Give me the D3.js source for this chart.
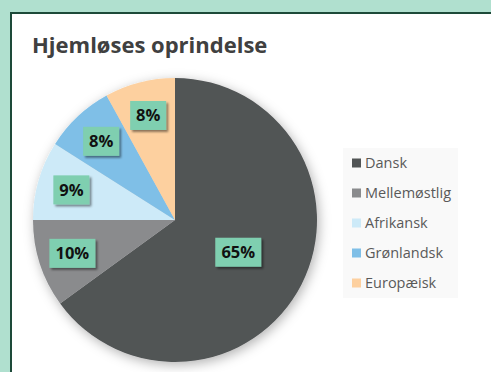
<!DOCTYPE html>
<html>
<head>
<meta charset="utf-8">
<script src="https://cdn.jsdelivr.net/npm/d3@7"></script>
<style>
  html, body { margin: 0; padding: 0; background: #b0e0cf; overflow: hidden; }
  svg { display: block; }
</style>
</head>
<body>
<div id="chart"></div>
<script>
  // Data
  const categories = ['Dansk', 'Mellemøstlig', 'Afrikansk', 'Grønlandsk', 'Europæisk'];
  const shares = [65, 10, 9, 8, 8];
  const sliceColors = ['#515455', '#8a8b8d', '#cdeaf8', '#7fbfe7', '#fdd09f'];
  const chartTitle = 'Hjemløses oprindelse';

  const width = 491;
  const height = 372;

  const svg = d3.select('#chart')
    .append('svg')
    .attr('width', width)
    .attr('height', height);

  const defs = svg.append('defs');

  // soft glow under pie
  const glow = defs.append('filter')
    .attr('id', 'pieShadow')
    .attr('x', '-20%').attr('y', '-20%')
    .attr('width', '140%').attr('height', '140%');
  glow.append('feDropShadow')
    .attr('dx', 2).attr('dy', 3)
    .attr('stdDeviation', 6)
    .attr('flood-color', '#000')
    .attr('flood-opacity', 0.3);

  // label box shadow
  const boxShadow = defs.append('filter')
    .attr('id', 'boxShadow')
    .attr('x', '-30%').attr('y', '-30%')
    .attr('width', '160%').attr('height', '160%');
  boxShadow.append('feDropShadow')
    .attr('dx', 2).attr('dy', 2)
    .attr('stdDeviation', 1.2)
    .attr('flood-color', '#000')
    .attr('flood-opacity', 0.45);

  // background panel (open to the right and bottom)
  svg.append('rect')
    .attr('x', 11).attr('y', 13)
    .attr('width', width + 20).attr('height', height + 20)
    .attr('fill', '#fff')
    .attr('stroke', '#1d4a39')
    .attr('stroke-width', 2);

  // Title
  svg.append('text')
    .attr('x', 32)
    .attr('y', 53)
    .attr('font-family', '"Open Sans", sans-serif')
    .attr('font-weight', 700)
    .attr('font-size', '22px')
    .attr('fill', '#404040')
    .text(chartTitle);

  // Pie
  const cx = 175, cy = 220, radius = 142;

  const color = d3.scaleOrdinal().domain(categories).range(sliceColors);

  const pieData = d3.pie()
    .sort(null)
    .value(d => d.value)(categories.map((c, i) => ({ name: c, value: shares[i] })));

  const arc = d3.arc().innerRadius(0).outerRadius(radius);

  const g = svg.append('g').attr('transform', `translate(${cx},${cy})`);

  g.append('g')
    .attr('filter', 'url(#pieShadow)')
    .selectAll('path')
    .data(pieData)
    .join('path')
    .attr('d', arc)
    .attr('fill', d => color(d.data.name));

  // Labels: big slice labelled nearer the middle
  const labelPos = d => {
    const r = radius * (d.data.value > 50 ? 0.5 : 0.76);
    return d3.arc().innerRadius(r).outerRadius(r).centroid(d);
  };

  const labels = g.selectAll('.lbl')
    .data(pieData)
    .join('g')
    .attr('class', 'lbl')
    .attr('transform', d => `translate(${labelPos(d)})`);

  labels.append('rect')
    .attr('x', d => d.data.value >= 10 ? -23 : -18)
    .attr('y', -14.5)
    .attr('width', d => d.data.value >= 10 ? 46 : 36)
    .attr('height', 29)
    .attr('fill', '#7fcfb0')
    .attr('filter', 'url(#boxShadow)');

  labels.append('text')
    .attr('text-anchor', 'middle')
    .attr('dy', '0.36em')
    .attr('font-family', '"Open Sans", sans-serif')
    .attr('font-weight', 700)
    .attr('font-size', '16.5px')
    .attr('fill', '#111')
    .text(d => d.data.value + '%');

  // Legend
  const legend = svg.append('g').attr('transform', 'translate(343,148)');

  legend.append('rect')
    .attr('width', 115)
    .attr('height', 150)
    .attr('fill', '#f9f9f9');

  const items = legend.selectAll('.item')
    .data(categories)
    .join('g')
    .attr('class', 'item')
    .attr('transform', (d, i) => `translate(9,${15 + i * 30})`);

  items.append('rect')
    .attr('x', 0).attr('y', -4.5)
    .attr('width', 9).attr('height', 9)
    .attr('fill', d => color(d));

  items.append('text')
    .attr('x', 13)
    .attr('dy', '0.35em')
    .attr('font-family', '"Open Sans", sans-serif')
    .attr('font-size', '14.5px')
    .attr('fill', '#595959')
    .text(d => d);
</script>
</body>
</html>
